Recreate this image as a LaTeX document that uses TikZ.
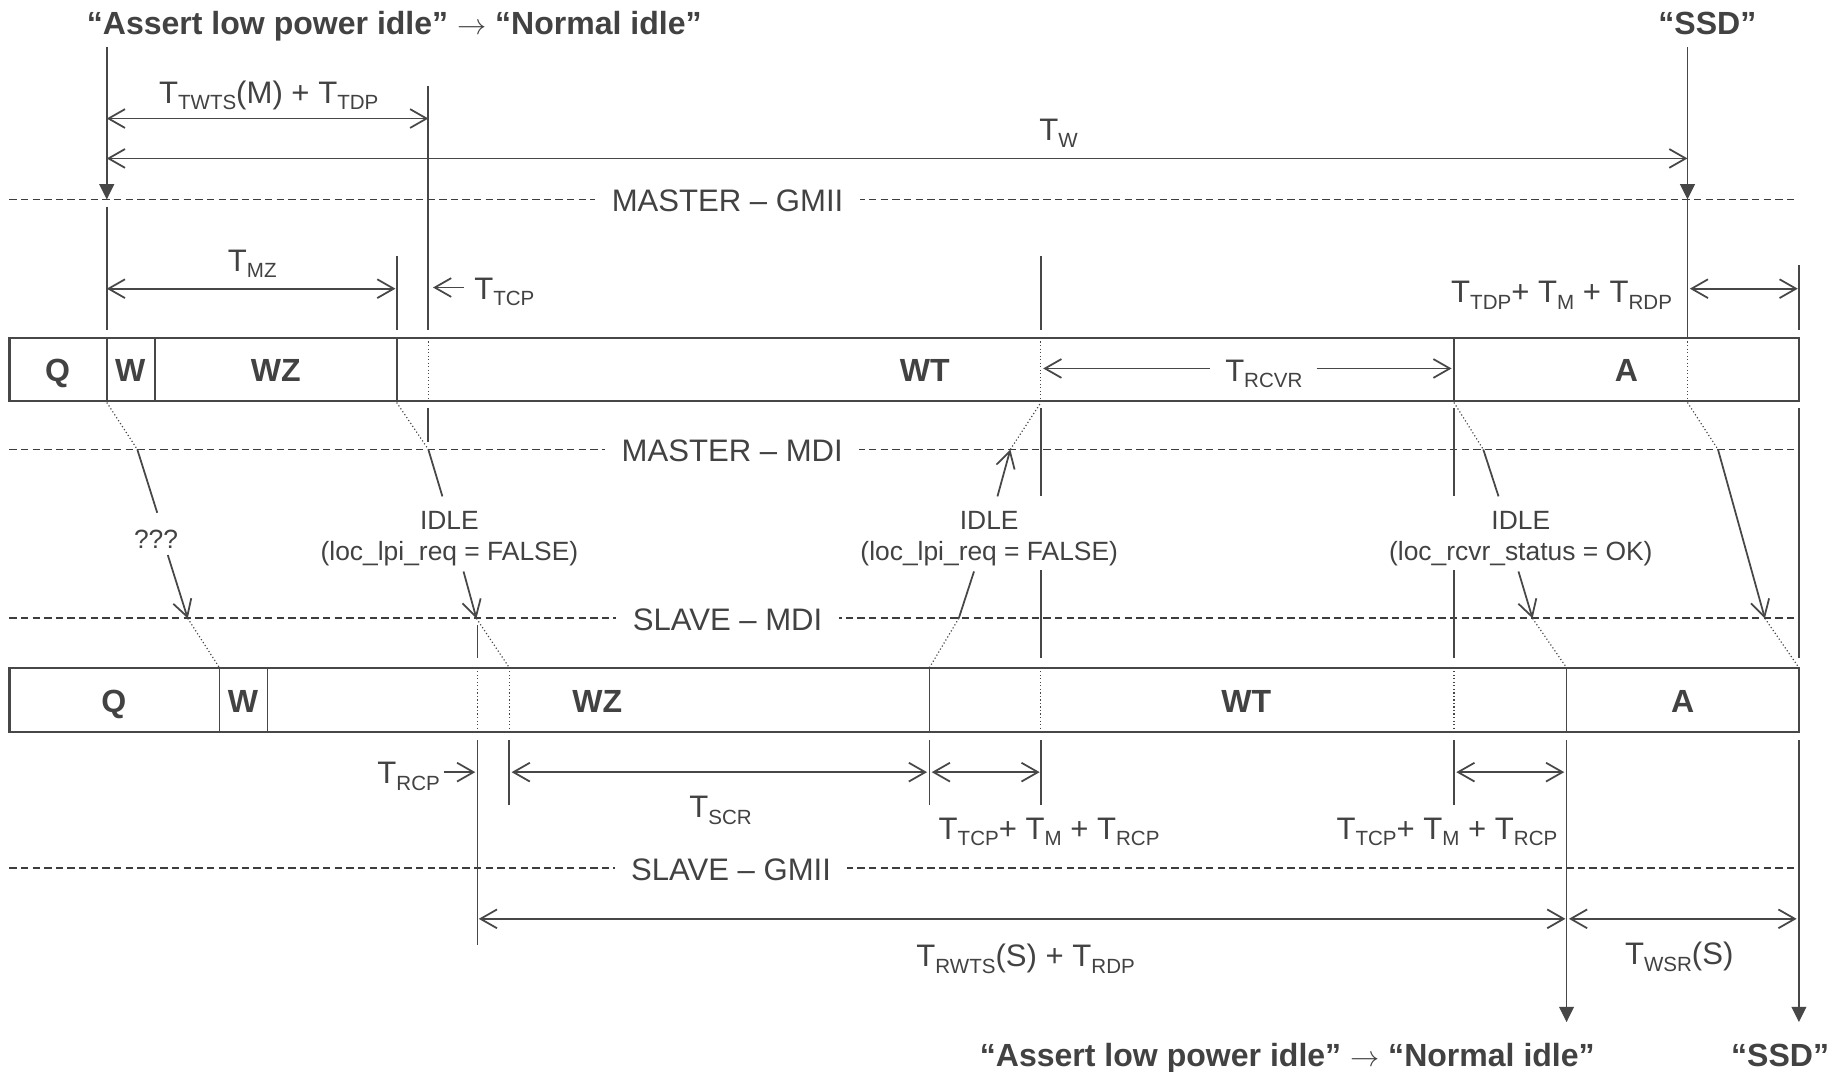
\documentclass[tikz,border=0pt]{standalone}
\usepackage{fontspec}
\setmainfont{Liberation Sans}
\usetikzlibrary{arrows.meta}
\newcommand{\Tx}[1]{T\raisebox{-5.5pt}{\fontsize{17.5}{20}\selectfont #1}}
\begin{document}
\begin{tikzpicture}[x=1pt,y=-1pt,
  ln/.style={draw=black!72, line width=1.5pt},
  boxln/.style={draw=black!72, line width=1.9pt},
  dotln/.style={draw=black!72, line width=1pt, dash pattern=on 1pt off 2pt},
  dashln/.style={draw=black!76, line width=1.6pt, dash pattern=on 6.3pt off 3.6pt},
  dim/.style={ln, {Straight Barb[length=14pt,width=16pt]}-{Straight Barb[length=14pt,width=16pt]}},
  tip/.style={ln, -{Straight Barb[length=14pt,width=16pt]}},
  down/.style={ln, -{Triangle[length=13pt,width=12.5pt]}},
  lbl/.style={text=black!74, font=\fontsize{26.5}{30}\selectfont, inner sep=0pt, anchor=base},
  ttl/.style={lbl, font=\fontsize{27.3}{30}\selectfont\bfseries},
  sml/.style={lbl, font=\fontsize{22.5}{27}\selectfont},
  ifc/.style={lbl, fill=white, inner xsep=14pt, inner ysep=3pt},
]
\useasboundingbox (0,0) rectangle (1568,913);
\fill[white] (0,0) rectangle (1568,913);

% ---------- interface lines ----------
\draw[dashln] (8,170) -- (1530,170);
\draw[dashln] (8,383) -- (1530,383);
\draw[dashln] (8,527) -- (1530,527);
\draw[dashln] (8,740) -- (1530,740);
\node[ifc] (mgmii) at (620,180) {MASTER – GMII};
\node[ifc] (mmdi) at (624,393) {MASTER – MDI};
\node[ifc] (smdi) at (620,537) {SLAVE – MDI};
\node[ifc] (sgmii) at (623,750) {SLAVE – GMII};

% ---------- titles ----------
\node[ttl] (ttop) at (336,29) {“Assert low power idle” $\rightarrow$ “Normal idle”};
\node[ttl] (ssdtop) at (1455,29) {“SSD”};
\node[ttl] (tbot) at (1097,909) {“Assert low power idle” $\rightarrow$ “Normal idle”};
\node[ttl] (ssdbot) at (1517,909) {“SSD”};

% ---------- upper box ----------
\draw[boxln] (8,288) rectangle (1533,342);
\foreach \x in {91,132,338,1239} \draw[ln] (\x,288) -- (\x,342);
\foreach \x in {365,887,1438} \draw[dotln] (\x,288) -- (\x,342);
\node[ttl] (uq) at (49,325) {Q};
\node[ttl] (uw) at (111,325) {W};
\node[ttl] (uwz) at (235,325) {WZ};
\node[ttl] (uwt) at (788,325) {WT};
\node[ttl] (ua) at (1386,325) {A};

% ---------- lower box ----------
\draw[boxln] (8,569) rectangle (1533,624);
\foreach \x in {187,228,792,1335} \draw[ln] (\x,569) -- (\x,624);
\foreach \x in {407,434,887,1239} \draw[dotln] (\x,569) -- (\x,624);
\node[ttl] (lq) at (97,607) {Q};
\node[ttl] (lw) at (207,607) {W};
\node[ttl] (lwz) at (509,607) {WZ};
\node[ttl] (lwt) at (1062,607) {WT};
\node[ttl] (la) at (1434,607) {A};

% ---------- vertical markers above upper box ----------
\draw[down] (91,40) -- (91,170);
\draw[ln] (91,176) -- (91,281);
\draw[down] (1438,40) -- (1438,170);
\draw[ln] (1438,170) -- (1438,288);
\draw[ln] (365,73) -- (365,281);
\draw[ln] (338,218) -- (338,281);
\draw[ln] (887,218) -- (887,281);
\draw[ln] (1533,226) -- (1533,281);

% ---------- vertical markers between boxes ----------
\draw[ln] (365,348) -- (365,377);
\draw[ln] (887,348) -- (887,423);
\draw[ln] (887,486) -- (887,561);
\draw[ln] (1239,348) -- (1239,423);
\draw[ln] (1239,486) -- (1239,561);
\draw[ln] (1533,348) -- (1533,561);
\draw[ln] (407,533) -- (407,561);

% ---------- vertical markers below lower box ----------
\draw[ln] (407,631) -- (407,805);
\foreach \x in {434,792,887,1239} \draw[ln] (\x,631) -- (\x,686);
\draw[down] (1335,631) -- (1335,871);
\draw[down] (1533,631) -- (1533,871);

% ---------- upper dimensions ----------
\draw[dim] (91,101) -- (365,101);
\node[lbl] (ttwts) at (229,88) {\Tx{TWTS}(M) + \Tx{TDP}};
\draw[dim] (91,135) -- (1438,135);
\node[lbl] (tw) at (902,120) {\Tx{W}};
\draw[dim] (91,246) -- (337,246);
\node[lbl] (tmz) at (215,231) {\Tx{MZ}};
\draw[tip] (395,245) -- (369,245);
\node[lbl, anchor=base west] (ttcp) at (404,255) {\Tx{TCP}};
\draw[dim] (1440,246) -- (1532,246);
\node[lbl, anchor=base east] (ttdp) at (1425,258) {\Tx{TDP}+ \Tx{M} + \Tx{RDP}};
\draw[tip] (1031,314) -- (889,314);
\draw[tip] (1122,314) -- (1237,314);
\node[lbl] (trcvr) at (1077,325) {\Tx{RCVR}};

% ---------- lower dimensions ----------
\node[lbl, anchor=base east] (trcp) at (375,668) {\Tx{RCP}};
\draw[tip] (378,658) -- (405,658);
\draw[dim] (436,658) -- (790,658);
\node[lbl] (tscr) at (614,697) {\Tx{SCR}};
\draw[dim] (794,658) -- (886,658);
\node[lbl] (tsum1) at (894,715) {\Tx{TCP}+ \Tx{M} + \Tx{RCP}};
\draw[dim] (1241,658) -- (1333,658);
\node[lbl] (tsum2) at (1233,715) {\Tx{TCP}+ \Tx{M} + \Tx{RCP}};
\draw[dim] (408,783) -- (1334,783);
\node[lbl] (trwts) at (874,824) {\Tx{RWTS}(S) + \Tx{RDP}};
\draw[dim] (1337,783) -- (1531,783);
\node[lbl] (twsr) at (1431,822) {\Tx{WSR}(S)};

% ---------- propagation through the link ----------
% 1: ???
\draw[dotln] (91,343) -- (117,383);
\draw[ln] (117,383) -- (134,437);
\node[sml] (q3) at (133,467) {???};
\draw[tip] (143,473) -- (160,527);
\draw[dotln] (160,527) -- (187,569);
% 2: IDLE (loc_lpi_req = FALSE), master to slave
\draw[dotln] (338,343) -- (365,383);
\draw[ln] (365,383) -- (377,423);
\node[sml] (idle1) at (383,451) {IDLE};
\node[sml] (idle1b) at (383,478) {(loc\_lpi\_req = FALSE)};
\draw[tip] (395,487) -- (406,527);
\draw[dotln] (406,527) -- (434,569);
% 3: IDLE (loc_lpi_req = FALSE), slave to master
\draw[dotln] (792,569) -- (817,527);
\draw[ln] (817,527) -- (830,487);
\node[sml] (idle2) at (843,451) {IDLE};
\node[sml] (idle2b) at (843,478) {(loc\_lpi\_req = FALSE)};
\draw[tip] (850,423) -- (861,383);
\draw[dotln] (861,383) -- (887,343);
% 4: IDLE (loc_rcvr_status = OK)
\draw[dotln] (1239,343) -- (1264,383);
\draw[ln] (1264,383) -- (1277,423);
\node[sml] (idle3) at (1296,451) {IDLE};
\node[sml] (idle3b) at (1296,478) {(loc\_rcvr\_status = OK)};
\draw[tip] (1294,487) -- (1306,527);
\draw[dotln] (1306,527) -- (1335,569);
% 5: end
\draw[dotln] (1438,343) -- (1464,383);
\draw[tip] (1464,383) -- (1504,527);
\draw[dotln] (1504,527) -- (1533,569);
\end{tikzpicture}
\end{document}
